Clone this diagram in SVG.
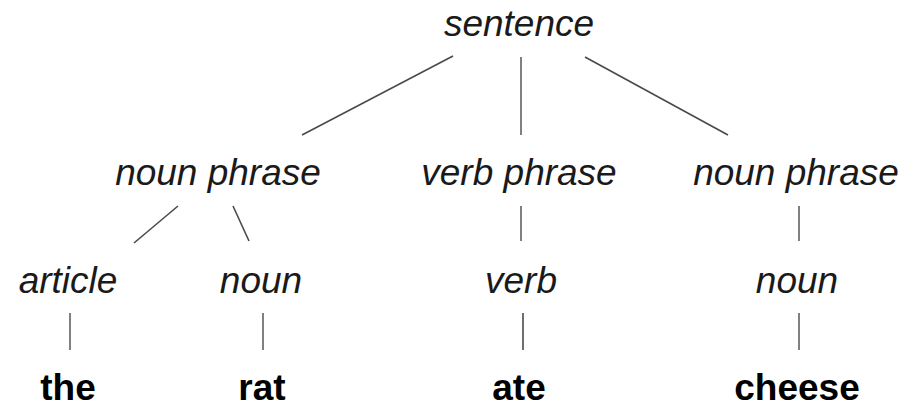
<svg xmlns="http://www.w3.org/2000/svg" width="906" height="407" viewBox="0 0 906 407">
<style>
text { font-family: "Liberation Sans", Arial, sans-serif; font-size: 37px; fill: #1a1a1a; text-anchor: middle; }
.cat { font-style: italic; }
.word { font-weight: bold; fill: #000; }
.edge { stroke: #4a4a4a; stroke-width: 1.6; fill: none; }
.vert { stroke: #808080; stroke-width: 2; }
</style>
<rect width="906" height="407" fill="#fff"/>
<g id="connectors">
<line class="edge" x1="453" y1="56" x2="302" y2="135"/>
<line class="edge vert" x1="521" y1="57" x2="521" y2="135"/>
<line class="edge" x1="585" y1="57" x2="728" y2="135"/>
<line class="edge" x1="178" y1="206" x2="134" y2="243"/>
<line class="edge" x1="233" y1="206" x2="249" y2="241"/>
<line class="edge vert" x1="521" y1="206" x2="521" y2="241"/>
<line class="edge vert" x1="799" y1="206" x2="799" y2="241"/>
<line class="edge vert" x1="70" y1="313" x2="70" y2="350"/>
<line class="edge vert" x1="263" y1="313" x2="263" y2="350"/>
<line class="edge" x1="523" y1="313" x2="523" y2="350"/>
<line class="edge vert" x1="799" y1="313" x2="799" y2="350"/>
</g>
<g id="sentence"><text class="cat" x="519" y="36">sentence</text></g>
<g id="np1"><text class="cat" x="218" y="185">noun phrase</text></g>
<g id="vp"><text class="cat" x="519" y="185">verb phrase</text></g>
<g id="np2"><text class="cat" x="796" y="185">noun phrase</text></g>
<g id="article"><text class="cat" x="68" y="293">article</text></g>
<g id="noun1"><text class="cat" x="261" y="293">noun</text></g>
<g id="verb"><text class="cat" x="521" y="293">verb</text></g>
<g id="noun2"><text class="cat" x="797" y="293">noun</text></g>
<g id="the"><text class="word" x="68" y="400">the</text></g>
<g id="rat"><text class="word" x="262" y="400">rat</text></g>
<g id="ate"><text class="word" x="519" y="400">ate</text></g>
<g id="cheese"><text class="word" x="797" y="400">cheese</text></g>
</svg>
